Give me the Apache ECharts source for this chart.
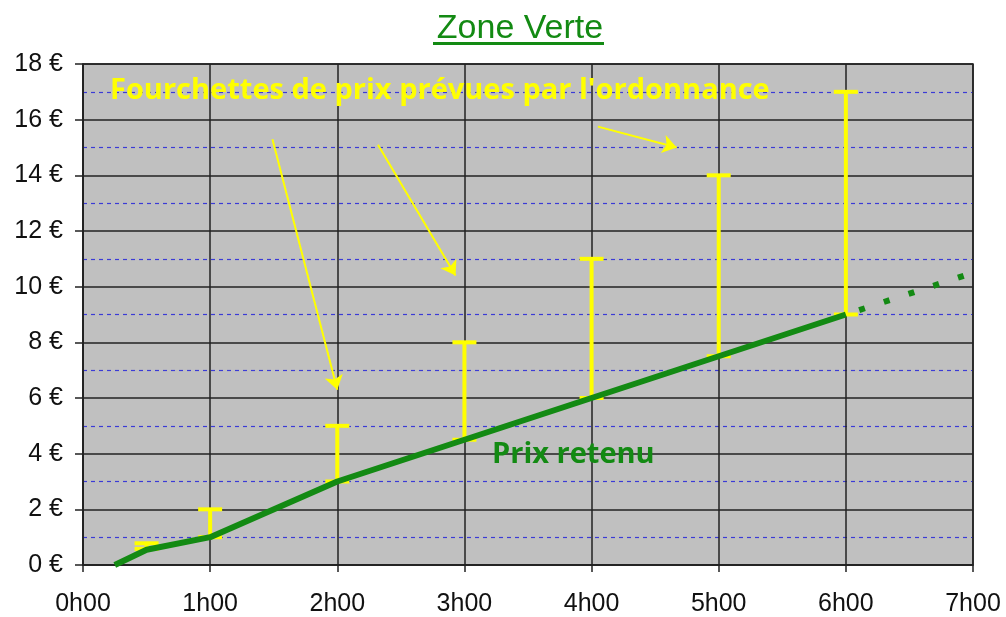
<!DOCTYPE html>
<html>
<head>
<meta charset="utf-8">
<script src="https://cdn.jsdelivr.net/npm/echarts@6/dist/echarts.min.js"></script>
<style>
  html, body { margin: 0; padding: 0; background: #fff; }
  #main { width: 1006px; height: 617px; }
</style>
</head>
<body>
<div id="main"></div>
<script>
// prix retenu (heures, euros)
const retenuHours = [0.25, 0.5, 1, 2, 3, 4, 5, 6];
const retenuPrice = [0, 0.55, 1, 3, 4.5, 6, 7.5, 9];
// prolongation en pointillés
const extHours = [6, 7];
const extPrice = [9, 10.5];
// fourchettes de l'ordonnance
const rangeHours = [0.5, 1, 2, 3, 4, 5, 6];
const rangeLow = [0.58, 1, 3, 4.5, 6, 7.5, 9];
const rangeHigh = [0.78, 2, 5, 8, 11, 14, 17];
// fleches d'annotation [x1, y1, x2, y2] en coordonnees du graphique
const arrows = [
  [1.49, 15.3, 2.0, 6.3],
  [2.32, 15.1, 2.93, 10.4],
  [4.05, 15.75, 4.67, 15.0]
];

const GREEN = '#138a13';
const YELLOW = '#ffff00';

const chart = echarts.init(document.getElementById('main'));

const rangeData = rangeHours.map((h, i) => [h, rangeLow[i], rangeHigh[i]]);

chart.setOption({
  animation: false,
  title: {
    text: 'Zone Verte',
    left: 515,
    top: 7,
    textAlign: 'center',
    textStyle: { fontFamily: 'Liberation Sans, Arial', fontSize: 34, fontWeight: 'normal', color: GREEN }
  },
  grid: {
    left: 83, right: 33, top: 64, bottom: 50,
    show: true, backgroundColor: '#c0c0c0', borderColor: '#222', borderWidth: 1.5
  },
  xAxis: {
    type: 'value', min: 0, max: 7, interval: 1,
    axisLine: { show: true, lineStyle: { color: '#222', width: 1.5 } },
    axisTick: { show: true, length: 7, lineStyle: { color: '#222', width: 1.5 } },
    axisLabel: {
      margin: 27, fontFamily: 'Liberation Sans, Arial', fontSize: 25, color: '#111',
      formatter: v => v + 'h00'
    },
    splitLine: { show: true, lineStyle: { color: '#222', width: 1.5 } }
  },
  yAxis: {
    type: 'value', min: 0, max: 18, interval: 2,
    axisLine: { show: true, lineStyle: { color: '#222', width: 1.5 } },
    axisTick: { show: true, length: 8, lineStyle: { color: '#222', width: 1.5 } },
    axisLabel: {
      margin: 20, fontFamily: 'Liberation Sans, Arial', fontSize: 25, color: '#111',
      formatter: v => v + ' €'
    },
    splitLine: { show: true, lineStyle: { color: '#222', width: 1.5 } },
    minorTick: { show: false, splitNumber: 2 },
    minorSplitLine: { show: true, lineStyle: { color: '#3b3bd6', width: 1.2, type: [4, 4] } }
  },
  series: [
    {
      type: 'custom',
      name: 'fourchettes',
      data: rangeData,
      z: 3,
      renderItem: (params, api) => {
        const lo = api.coord([api.value(0), api.value(1)]);
        const hi = api.coord([api.value(0), api.value(2)]);
        const cap = 12;
        const style = { stroke: YELLOW, lineWidth: 4 };
        return {
          type: 'group',
          children: [
            { type: 'line', shape: { x1: lo[0], y1: lo[1], x2: hi[0], y2: hi[1] }, style },
            { type: 'line', shape: { x1: hi[0] - cap, y1: hi[1], x2: hi[0] + cap, y2: hi[1] }, style },
            { type: 'line', shape: { x1: lo[0] - cap, y1: lo[1], x2: lo[0] + cap, y2: lo[1] }, style }
          ]
        };
      }
    },
    {
      type: 'line',
      name: 'Prix retenu',
      data: retenuHours.map((h, i) => [h, retenuPrice[i]]),
      showSymbol: false,
      z: 4,
      lineStyle: { color: GREEN, width: 6 },
      markLine: {
        silent: true,
        symbol: ['none', 'arrow'],
        symbolSize: 14,
        label: { show: false },
        lineStyle: { color: YELLOW, width: 2, type: 'solid' },
        itemStyle: { color: YELLOW },
        data: arrows.map(a => [{ coord: [a[0], a[1]] }, { coord: [a[2], a[3]] }])
      }
    },
    {
      type: 'line',
      name: 'prolongation',
      data: extHours.map((h, i) => [h, extPrice[i]]),
      showSymbol: false,
      z: 4,
      lineStyle: { color: GREEN, width: 6, type: [6, 20], dashOffset: -14 }
    }
  ],
  graphic: [
    {
      type: 'rect', left: 433, top: 42, z: 10,
      shape: { width: 171, height: 3 },
      style: { fill: GREEN }
    },
    {
      type: 'text', left: 110, top: 76, z: 10,
      style: {
        text: "Fourchettes de prix prévues par l'ordonnance",
        font: "bold 29px 'Open Sans'", fill: YELLOW
      }
    },
    {
      type: 'text', left: 492, top: 440, z: 10,
      style: {
        text: 'Prix retenu',
        font: "bold 29px 'Open Sans'", fill: GREEN
      }
    }
  ]
});
</script>
</body>
</html>
